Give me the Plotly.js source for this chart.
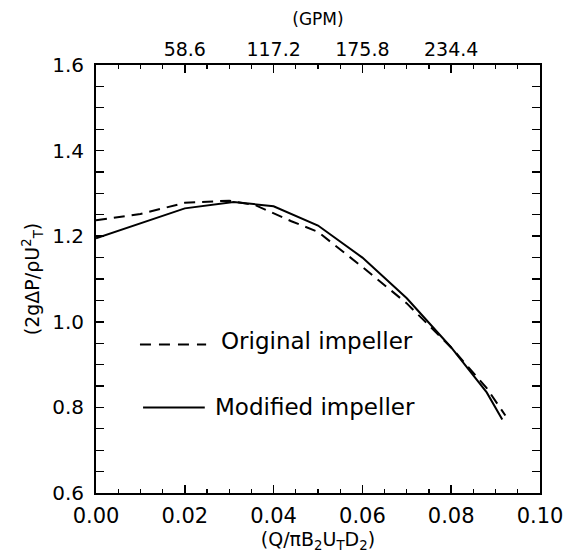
<!DOCTYPE html>
<html>
<head>
<meta charset="utf-8">
<script src="https://cdn.plot.ly/plotly-3.0.1.min.js"></script>
<style>html,body{margin:0;padding:0;background:#fff;}</style>
</head>
<body>
<div id="chart" style="width:574px;height:559px;"></div>
<script>
// Flow coefficient (Q/πB2UTD2)
const origX = [0, 0.010, 0.020, 0.030, 0.036, 0.044, 0.050, 0.060, 0.070, 0.080, 0.088, 0.0922];
const origY = [1.237, 1.252, 1.278, 1.283, 1.272, 1.235, 1.210, 1.128, 1.043, 0.940, 0.845, 0.781];
const modX = [0, 0.020, 0.031, 0.040, 0.050, 0.060, 0.070, 0.080, 0.088, 0.0915];
const modY = [1.195, 1.265, 1.280, 1.270, 1.225, 1.150, 1.055, 0.940, 0.835, 0.772];
const xTicks = [0, 0.02, 0.04, 0.06, 0.08, 0.10];
const xTickText = ['0.00', '0.02', '0.04', '0.06', '0.08', '0.10'];
const yTicks = [0.6, 0.8, 1.0, 1.2, 1.4, 1.6];
const yTickText = ['0.6', '0.8', '1.0', '1.2', '1.4', '1.6'];
const gpmTicks = [58.6, 117.2, 175.8, 234.4];
const gpmTickText = ['58.6', '117.2', '175.8', '234.4'];
const seriesNames = ['Original impeller', 'Modified impeller'];

const F = 'DejaVu Sans, sans-serif';
const traces = [
  {x: origX, y: origY, mode: 'lines', name: seriesNames[0],
   line: {color: '#000', width: 2, dash: '11px,7px'}, showlegend: false},
  {x: modX, y: modY, mode: 'lines', name: seriesNames[1],
   line: {color: '#000', width: 2}, showlegend: false},
  {x: gpmTicks, y: [null, null, null, null], xaxis: 'x2', mode: 'lines', showlegend: false, hoverinfo: 'skip'}
];

const layout = {
  width: 574, height: 559,
  margin: {l: 96, r: 34, t: 65, b: 66},
  paper_bgcolor: '#fff', plot_bgcolor: '#fff',
  font: {family: F, size: 19, color: '#000'},
  showlegend: false,
  xaxis: {
    range: [0, 0.10], tickvals: xTicks, ticktext: xTickText,
    ticks: 'inside', ticklen: 8, tickwidth: 1.5, tickcolor: '#000',
    minor: {dtick: 0.005, tick0: 0, ticks: 'inside', ticklen: 4, tickwidth: 1.2, tickcolor: '#000'},
    showline: true, linecolor: '#000', linewidth: 2, mirror: true,
    showgrid: false, zeroline: false, ticklabelstandoff: 3,
    tickfont: {family: F, size: 21},
    title: {text: '(Q/πB<sub>2</sub>U<sub>T</sub>D<sub>2</sub>)', font: {family: F, size: 19}, standoff: 4}
  },
  xaxis2: {
    overlaying: 'x', side: 'top', range: [0, 293],
    tickvals: gpmTicks, ticktext: gpmTickText,
    ticks: 'inside', ticklen: 8, tickwidth: 1.5, tickcolor: '#000',
    minor: {dtick: 14.65, tick0: 0, ticks: 'inside', ticklen: 4, tickwidth: 1.2, tickcolor: '#000'},
    showline: false, showgrid: false, zeroline: false, ticklabelstandoff: 4,
    tickfont: {family: F, size: 19},
    title: {text: '(GPM)', font: {family: F, size: 17}, standoff: 8}
  },
  yaxis: {
    range: [0.6, 1.6], tickvals: yTicks, ticktext: yTickText,
    ticks: 'inside', ticklen: 8, tickwidth: 1.5, tickcolor: '#000',
    minor: {dtick: 0.05, tick0: 0.6, ticks: 'inside', ticklen: 4, tickwidth: 1.2, tickcolor: '#000'},
    showline: true, linecolor: '#000', linewidth: 2, mirror: 'allticks',
    showgrid: false, zeroline: false, ticklabelstandoff: 6,
    tickfont: {family: F, size: 20},
    title: {text: '(2gΔP/ρU<sup>2</sup><sub>T</sub>)', font: {family: F, size: 19}, standoff: 8}
  },
  shapes: [
    {type: 'line', xref: 'paper', yref: 'paper', x0: 0.099, x1: 0.248, y0: 0.347, y1: 0.347,
     line: {color: '#000', width: 2, dash: '11px,8px'}},
    {type: 'line', xref: 'paper', yref: 'paper', x0: 0.106, x1: 0.245, y0: 0.200, y1: 0.200,
     line: {color: '#000', width: 2}}
  ],
  annotations: [
    {xref: 'paper', yref: 'paper', x: 0.277, y: 0.354, xanchor: 'left', yanchor: 'middle',
     text: seriesNames[0], showarrow: false, font: {family: F, size: 23, color: '#000'}},
    {xref: 'paper', yref: 'paper', x: 0.264, y: 0.202, xanchor: 'left', yanchor: 'middle',
     text: seriesNames[1], showarrow: false, font: {family: F, size: 23, color: '#000'}}
  ]
};

Plotly.newPlot('chart', traces, layout, {displayModeBar: false, staticPlot: true});
</script>
</body>
</html>
